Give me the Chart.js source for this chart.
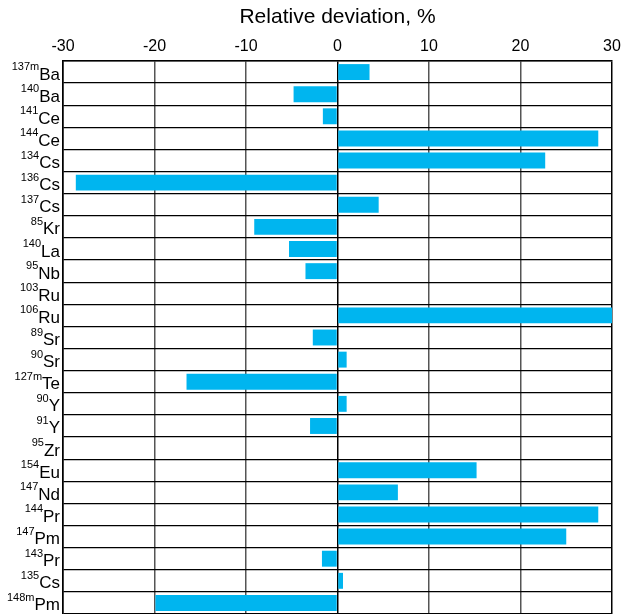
<!DOCTYPE html>
<html>
<head>
<meta charset="utf-8">
<script src="https://cdn.jsdelivr.net/npm/chart.js@4.4.1/dist/chart.umd.min.js"></script>
<style>
  html, body { margin: 0; padding: 0; background: #fff; }
  #wrap { width: 621px; height: 614px; position: relative; }
</style>
</head>
<body>
<div id="wrap"><canvas id="c"></canvas></div>
<script>
const massNumbers = ['137m','140','141','144','134','136','137','85','140','95','103','106','89','90','127m','90','91','95','154','147','144','147','143','135','148m'];
const elements = ['Ba','Ba','Ce','Ce','Cs','Cs','Cs','Kr','La','Nb','Ru','Ru','Sr','Sr','Te','Y','Y','Zr','Eu','Nd','Pr','Pm','Pr','Cs','Pm'];
const deviations = [3.5, -4.8, -1.6, 28.5, 22.7, -28.6, 4.5, -9.1, -5.3, -3.5, 0, 30, -2.7, 1.0, -16.5, 1.0, -3.0, 0, 15.2, 6.6, 28.5, 25.0, -1.7, 0.6, -19.9];
const xTicks = [-30, -20, -10, 0, 10, 20, 30];
const axisTitle = 'Relative deviation, %';

const categories = massNumbers.map((m, i) => m + elements[i]);
const FONT = '"Liberation Sans", Arial, sans-serif';

const isotopeLabels = {
  id: 'isotopeLabels',
  afterDraw(chart) {
    const ctx = chart.ctx;
    const ys = chart.scales.y;
    const right = chart.chartArea.left - 3;
    ctx.save();
    ctx.fillStyle = '#000';
    ctx.textAlign = 'right';
    ctx.textBaseline = 'alphabetic';
    for (let i = 0; i < categories.length; i++) {
      const cy = ys.getPixelForValue(i);
      ctx.font = '17px ' + FONT;
      const w = ctx.measureText(elements[i]).width;
      ctx.fillText(elements[i], right, cy + 7.5);
      ctx.font = '11px ' + FONT;
      ctx.fillText(massNumbers[i], right - w, cy - 2);
    }
    ctx.restore();
  }
};

new Chart(document.getElementById('c'), {
  type: 'bar',
  data: {
    labels: categories,
    datasets: [{
      data: deviations,
      backgroundColor: '#00b5ef',
      borderWidth: 0,
      barPercentage: 0.72,
      categoryPercentage: 1.0
    }]
  },
  options: {
    indexAxis: 'y',
    responsive: true,
    maintainAspectRatio: false,
    animation: false,
    layout: { padding: { left: 0, right: 9, top: 0, bottom: 0 } },
    plugins: { legend: { display: false }, tooltip: { enabled: false } },
    scales: {
      x: {
        position: 'top',
        min: -30,
        max: 30,
        z: 1,
        afterBuildTicks(scale) { scale.ticks = xTicks.map(v => ({ value: v })); },
        afterFit(scale) { scale.height = 61; scale.paddingLeft = 0; scale.paddingRight = 0; },
        ticks: {
          color: '#000',
          font: { family: FONT, size: 16 },
          padding: 5,
          maxRotation: 0
        },
        grid: {
          drawTicks: false,
          color: (c) => (c.tick && (c.tick.value === 0 || Math.abs(c.tick.value) === 30)) ? '#000' : '#555',
          lineWidth: 1.5
        },
        border: { display: true, color: '#000', width: 1.5 },
        title: {
          display: true,
          text: axisTitle,
          color: '#000',
          font: { family: FONT, size: 21 },
          padding: { top: 5, bottom: 0 }
        }
      },
      y: {
        z: 1,
        afterFit(scale) { scale.width = 63; },
        ticks: { display: false },
        grid: { drawTicks: false, color: '#000', lineWidth: 1.3, offset: true },
        border: { display: true, color: '#000', width: 1.5 }
      }
    }
  },
  plugins: [isotopeLabels]
});
</script>
</body>
</html>
